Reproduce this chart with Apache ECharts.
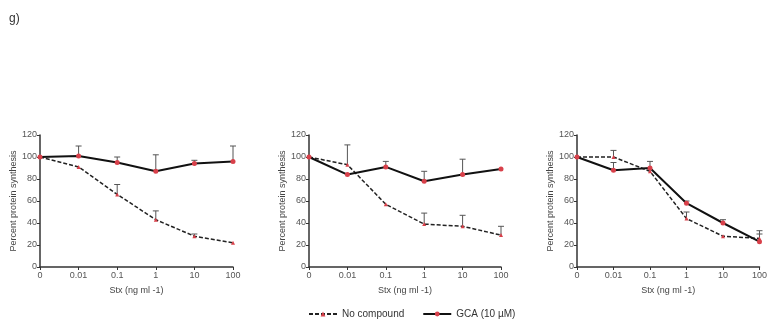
<!DOCTYPE html>
<html>
<head>
<meta charset="utf-8">
<script src="https://cdn.jsdelivr.net/npm/echarts@6/dist/echarts.min.js"></script>
<style>
  html, body { margin: 0; padding: 0; background: #fff; }
  #chart { width: 770px; height: 326px; }
</style>
</head>
<body>
<div id="chart"></div>
<script>
// Stx concentrations (ng ml -1)
const doses = ['0', '0.01', '0.1', '1', '10', '100'];

// panel 1
const noCompound1 = [100, 91, 66, 43, 28, 22];
const noCompound1Err = [null, null, 75, 51, 30, null];
const gca1 = [100, 101, 95, 87, 94, 96];
const gca1Err = [null, 110, 100, 102, 97, 110];

// panel 2
const noCompound2 = [100, 93, 57, 39, 37, 29];
const noCompound2Err = [null, 111, null, 49, 47, 37];
const gca2 = [100, 84, 91, 78, 84, 89];
const gca2Err = [null, null, 96, 87, 98, null];

// panel 3
const noCompound3 = [100, 100, 87, 44, 28, 26];
const noCompound3Err = [null, 106, null, 50, null, 33];
const gca3 = [100, 88, 90, 58, 40, 23];
const gca3Err = [null, 95, 96, 60, 43, 30];

const panels = [
  { nc: noCompound1, ncErr: noCompound1Err, gca: gca1, gcaErr: gca1Err },
  { nc: noCompound2, ncErr: noCompound2Err, gca: gca2, gcaErr: gca2Err },
  { nc: noCompound3, ncErr: noCompound3Err, gca: gca3, gcaErr: gca3Err }
];

const RED = '#d8404a';
const FONT = 'Liberation Sans, Arial, sans-serif';

const grids = [
  { left: 40, top: 135, width: 193, height: 132 },
  { left: 309, top: 135, width: 192, height: 132 },
  { left: 577, top: 135, width: 191, height: 132 }
];

function errorBars(values, errs, idx) {
  const data = [];
  values.forEach((v, i) => {
    if (errs[i] != null) data.push([i, v, errs[i]]);
  });
  return {
    type: 'custom',
    xAxisIndex: idx,
    yAxisIndex: idx,
    z: 1,
    silent: true,
    renderItem: function (params, api) {
      const lo = api.coord([api.value(0), api.value(1)]);
      const hi = api.coord([api.value(0), api.value(2)]);
      const w = 3;
      return {
        type: 'group',
        children: [
          { type: 'line', shape: { x1: lo[0], y1: lo[1], x2: hi[0], y2: hi[1] },
            style: { stroke: '#555', lineWidth: 1 } },
          { type: 'line', shape: { x1: hi[0] - w, y1: hi[1], x2: hi[0] + w, y2: hi[1] },
            style: { stroke: '#555', lineWidth: 1 } }
        ]
      };
    },
    data: data
  };
}

const xAxes = [], yAxes = [], series = [];
panels.forEach((p, i) => {
  xAxes.push({
    type: 'category',
    gridIndex: i,
    data: doses,
    boundaryGap: false,
    name: 'Stx (ng ml -1)',
    nameLocation: 'middle',
    nameGap: 19,
    nameTextStyle: { fontSize: 9, color: '#444', fontFamily: FONT },
    axisLine: { lineStyle: { color: '#333', width: 1.5 } },
    axisTick: { alignWithLabel: true, length: 3, lineStyle: { color: '#333' } },
    axisLabel: { fontSize: 9, color: '#555', fontFamily: FONT, margin: 4, showMaxLabel: true },
    splitLine: { show: false }
  });
  yAxes.push({
    type: 'value',
    gridIndex: i,
    min: 0,
    max: 120,
    interval: 20,
    name: 'Percent protein synthesis',
    nameLocation: 'middle',
    nameRotate: 90,
    nameGap: 22,
    nameTextStyle: { fontSize: 9, color: '#444', fontFamily: FONT },
    axisLine: { show: true, lineStyle: { color: '#333', width: 1.5 } },
    axisTick: { show: true, length: 3, lineStyle: { color: '#333' } },
    axisLabel: { fontSize: 9, color: '#555', fontFamily: FONT, margin: 3 },
    splitLine: { show: false }
  });
  series.push(errorBars(p.nc, p.ncErr, i));
  series.push(errorBars(p.gca, p.gcaErr, i));
  series.push({
    type: 'line',
    name: 'No compound',
    xAxisIndex: i,
    yAxisIndex: i,
    data: p.nc,
    symbol: 'triangle',
    symbolSize: 4,
    color: RED,
    itemStyle: { color: RED },
    lineStyle: { color: '#222', width: 1.5, type: [4, 2] },
    z: 2
  });
  series.push({
    type: 'line',
    name: 'GCA (10 \u00b5M)',
    xAxisIndex: i,
    yAxisIndex: i,
    data: p.gca,
    symbol: 'circle',
    symbolSize: 5,
    color: RED,
    itemStyle: { color: RED },
    lineStyle: { color: '#111', width: 2 },
    z: 3
  });
});

const chart = echarts.init(document.getElementById('chart'));
chart.setOption({
  animation: false,
  title: {
    text: 'g)',
    left: 4,
    top: 8,
    textStyle: { fontSize: 12, fontWeight: 'normal', color: '#333', fontFamily: FONT }
  },
  legend: {
    data: ['No compound', 'GCA (10 \u00b5M)'],
    top: 304,
    left: 303,
    itemWidth: 28,
    itemHeight: 6,
    itemGap: 18,
    textStyle: { fontSize: 10, color: '#333', fontFamily: FONT }
  },
  grid: grids,
  xAxis: xAxes,
  yAxis: yAxes,
  series: series
});
</script>
</body>
</html>
